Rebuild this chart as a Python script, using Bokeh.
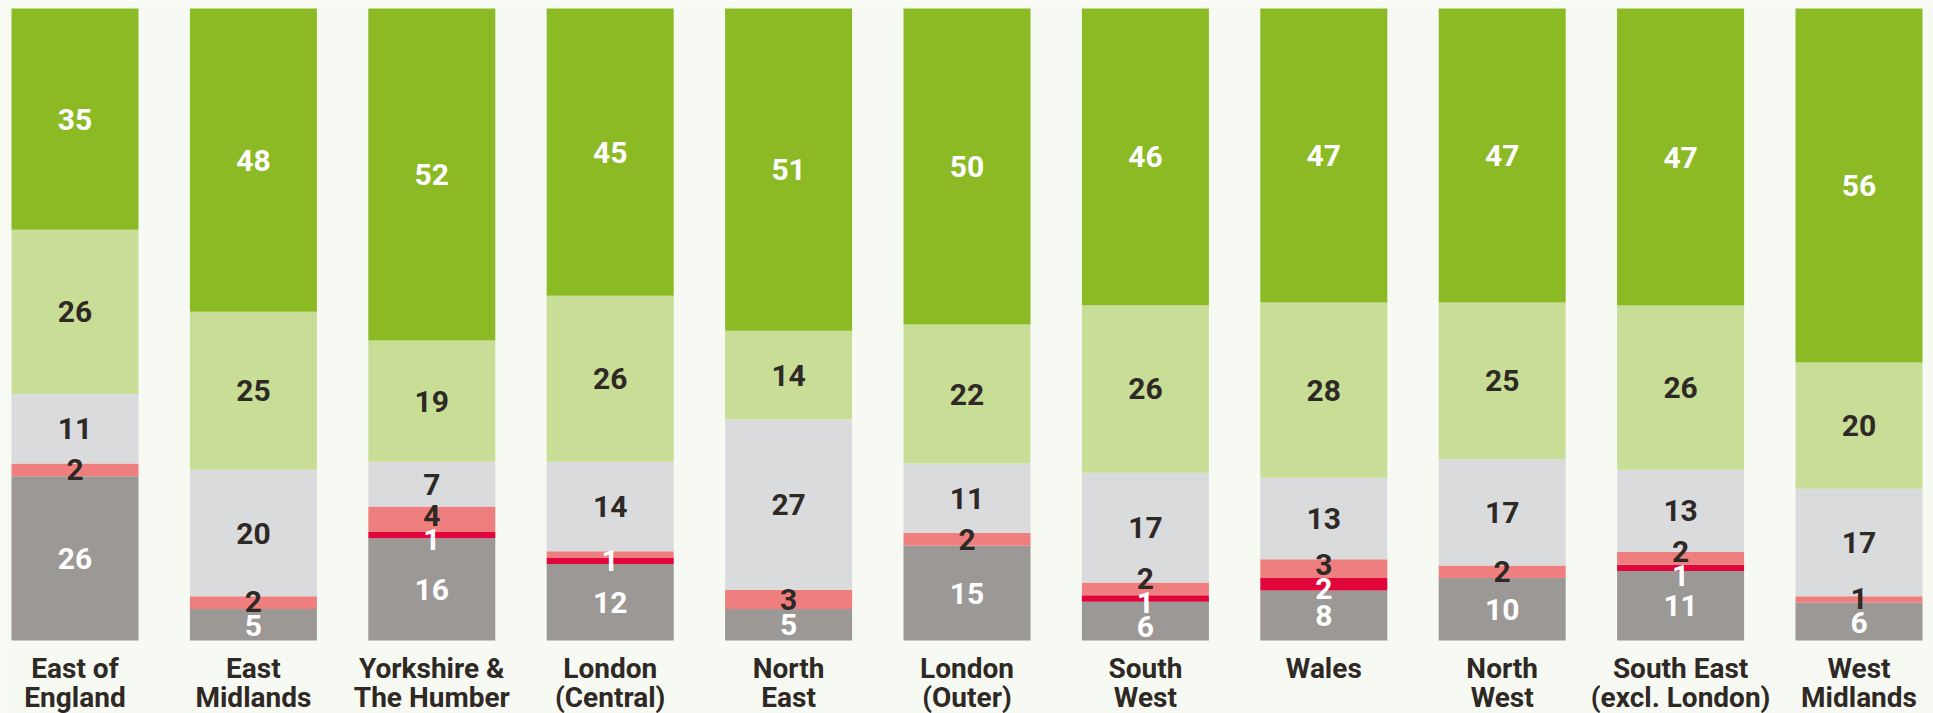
import numpy as np
from bokeh.plotting import figure
from bokeh.models import ColumnDataSource, Range1d
from bokeh.core.properties import value
from bokeh.embed import file_html
from bokeh.resources import INLINE

# ---------------- data (bottom segment first) ----------------
regions = ["East of\nEngland", "East\nMidlands", "Yorkshire &\nThe Humber", "London\n(Central)",
           "North\nEast", "London\n(Outer)", "South\nWest", "Wales", "North\nWest",
           "South East\n(excl. London)", "West\nMidlands"]
grey_vals = [26, 5, 16, 12, 5, 15, 6, 8, 10, 11, 6]
red_vals = [0, 0, 1, 1, 0, 0, 1, 2, 0, 1, 0]
pink_vals = [2, 2, 4, 1, 3, 2, 2, 3, 2, 2, 1]
lightgrey_vals = [11, 20, 7, 14, 27, 11, 17, 13, 17, 13, 17]
lightgreen_vals = [26, 25, 19, 26, 14, 22, 26, 28, 25, 26, 20]
green_vals = [35, 48, 52, 45, 51, 50, 46, 47, 47, 47, 56]
# labels not printed in the original: (region index, series index)
hidden_labels = {(3, 2)}

# ---------------- styles ----------------
BG = "#f7faf3"
DARK = "#2f2926"
series = [grey_vals, red_vals, pink_vals, lightgrey_vals, lightgreen_vals, green_vals]
fill_colors = ["#9c9895", "#e0063b", "#ee7f7e", "#dadbdd", "#c8dd95", "#8cba25"]
text_colors = ["white", "white", DARK, DARK, DARK, "white"]
FONT = "Roboto"
PX_PER_UNIT = 6.32
W, H = 1933, 713
STEP_PX = 178.4
LABEL_GAP_PX = 24

vals = np.array(series, dtype=float)          # (6, 11)
totals = vals.sum(axis=0)
pct = vals / totals * 100.0
tops = np.cumsum(pct, axis=0)
bottoms = tops - pct
xs = np.arange(len(regions))

x0 = -74.5 / STEP_PX
y0 = -(H - 640) / PX_PER_UNIT
p = figure(width=W, height=H, output_backend="svg", toolbar_location=None,
           x_range=Range1d(x0, x0 + W / STEP_PX),
           y_range=Range1d(y0, y0 + H / PX_PER_UNIT),
           x_axis_location=None, y_axis_location=None, min_border=0,
           background_fill_color=BG, border_fill_color=BG, outline_line_color=None)
p.xgrid.grid_line_color = None
p.ygrid.grid_line_color = None

for k in range(len(series)):
    src = ColumnDataSource(dict(x=xs, bottom=bottoms[k], top=tops[k]))
    p.vbar(x="x", bottom="bottom", top="top", width=127 / STEP_PX, source=src,
           fill_color=fill_colors[k], line_color=None)


def spread(centers, d):
    clusters = [[c] for c in centers]

    def pos(cl):
        m = sum(cl) / len(cl)
        n = len(cl)
        return [m + (i - (n - 1) / 2) * d for i in range(n)]

    changed = True
    while changed:
        changed = False
        for i in range(len(clusters) - 1):
            a, b = pos(clusters[i]), pos(clusters[i + 1])
            if b[0] - a[-1] < d - 1e-9:
                clusters[i] = clusters[i] + clusters[i + 1]
                del clusters[i + 1]
                changed = True
                break
    out = []
    for cl in clusters:
        out += pos(cl)
    return out


lx, ly, lt, lc = [], [], [], []
d = LABEL_GAP_PX / PX_PER_UNIT
for j in range(len(regions)):
    items = [(k, (bottoms[k][j] + tops[k][j]) / 2) for k in range(len(series))
             if vals[k][j] > 0 and (j, k) not in hidden_labels]
    ys = spread([c for _, c in items], d)
    for (k, _), y in zip(items, ys):
        lx.append(xs[j])
        ly.append(y)
        lt.append(str(int(vals[k][j])))
        lc.append(text_colors[k])

p.text(x="x", y="y", text="t", text_color="c",
       source=ColumnDataSource(dict(x=lx, y=ly, t=lt, c=lc)),
       text_font=value(FONT), text_font_style="bold", text_font_size="30px",
       text_align="center", text_baseline="middle")

# category labels (two lines)
line1 = [r.split("\n")[0] for r in regions]
line2 = [r.split("\n")[1] if "\n" in r else "" for r in regions]
y1 = (640 - 668) / PX_PER_UNIT
y2 = (640 - 697) / PX_PER_UNIT
p.text(x=xs, y=[y1] * len(xs), text=line1, text_color=DARK, text_font=value(FONT),
       text_font_style="bold", text_font_size="28px", text_align="center",
       text_baseline="alphabetic")
p.text(x=xs, y=[y2] * len(xs), text=line2, text_color=DARK, text_font=value(FONT),
       text_font_style="bold", text_font_size="28px", text_align="center",
       text_baseline="alphabetic")

html = file_html(p, INLINE)
html = html.replace("<body>", '<body style="background-color:%s;">' % BG, 1)
open("out.html", "w").write(html)
